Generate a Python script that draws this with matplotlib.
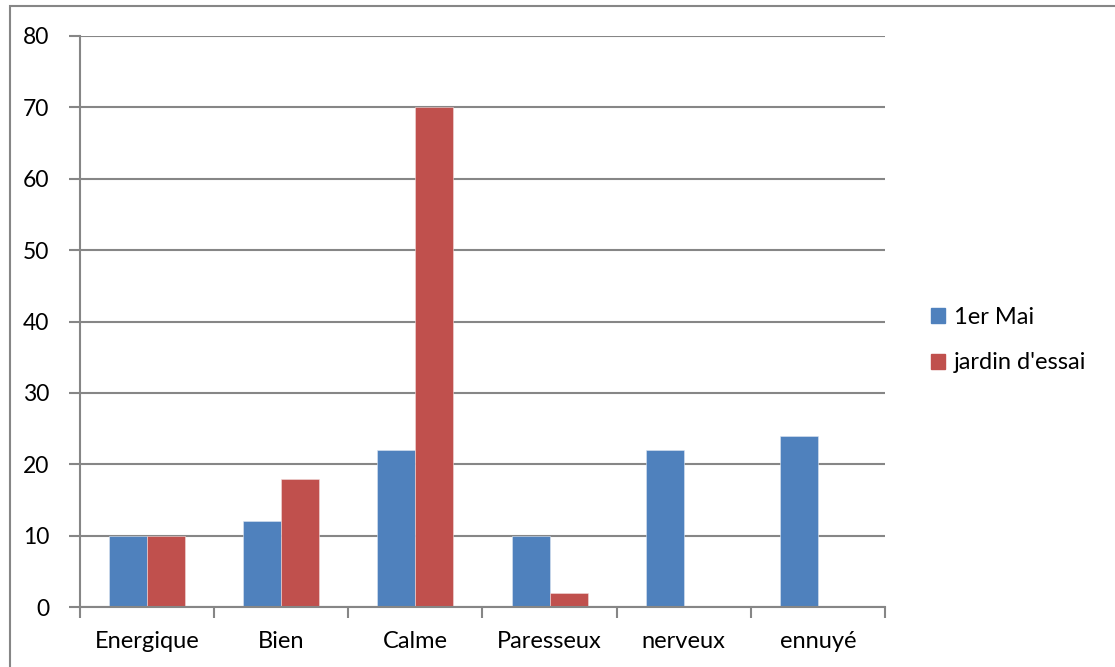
import numpy as np
import matplotlib
matplotlib.use("Agg")
import matplotlib.pyplot as plt
from matplotlib.patches import Patch

categories = ["Energique", "Bien", "Calme", "Paresseux", "nerveux", "ennuyé"]
mai = [10, 12, 22, 10, 22, 24]
jardin = [10, 18, 70, 2, 0, 0]
series_names = ["1er Mai", "jardin d'essai"]
yticks = [0, 10, 20, 30, 40, 50, 60, 70, 80]

blue = "#4F81BD"
red = "#C0504D"
grid_col = "#868686"

plt.rcParams['font.family'] = ['Lato', 'DejaVu Sans']

fig = plt.figure(figsize=(11.15, 6.67), dpi=100)
ax = fig.add_axes([80 / 1115, 60 / 667, 805 / 1115, 571 / 667])

x = np.arange(len(categories))
w = 0.283
ax.bar(x - w / 2, mai, w, color=blue, edgecolor="#DCE6F2", linewidth=0.4, zorder=3)
ax.bar(x + w / 2, jardin, w, color=red, edgecolor="#F2DCDB", linewidth=0.4, zorder=3)

ax.set_xlim(-0.5, len(categories) - 0.5)
ax.set_ylim(0, 80)
ax.set_yticks(yticks)
ax.set_yticklabels([str(v) for v in yticks], fontsize=16.5)
ax.set_xticks(x)
ax.set_xticklabels(categories, fontsize=17)
ax.tick_params(axis="x", length=0, pad=17)
ax.tick_params(axis="y", length=8, color=grid_col, width=1.5, pad=14)

# category boundary ticks
ax.set_xticks(np.arange(-0.5, len(categories)), minor=True)
ax.tick_params(axis="x", which="minor", length=8, color=grid_col, width=1.5)

ax.yaxis.grid(True, color=grid_col, linewidth=1.5, zorder=0)
for s in ["top", "right"]:
    ax.spines[s].set_visible(False)
ax.spines["left"].set_color(grid_col)
ax.spines["bottom"].set_color(grid_col)
ax.spines["left"].set_linewidth(1.5)
ax.spines["bottom"].set_linewidth(1.5)
ax.spines["bottom"].set_zorder(4)

handles = [Patch(color=blue), Patch(color=red)]
fig.legend(handles, series_names, loc="center left",
           bbox_to_anchor=(910 / 1115, 1 - 340 / 667), frameon=False,
           fontsize=17, handlelength=0.6, handleheight=0.6,
           handletextpad=0.35, labelspacing=1.05)

# outer chart border (left and top edges visible)
fig.add_artist(plt.Rectangle((10 / 1115, -0.05), 1.2, 1 - 6 / 667 + 0.05,
                             transform=fig.transFigure, fill=False,
                             edgecolor=grid_col, linewidth=1.5))

fig.savefig("out.png", dpi=100)
